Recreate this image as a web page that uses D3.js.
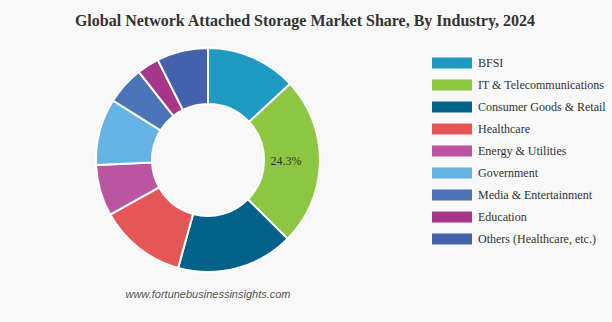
<!DOCTYPE html>
<html><head><meta charset="utf-8">
<script src="https://cdn.jsdelivr.net/npm/d3@7"></script>
<style>html,body{margin:0;padding:0;background:#f8f8f8;}svg{display:block;}</style>
</head><body>
<svg id="chart" width="612" height="322"></svg>
<script>
const categories = ["BFSI","IT & Telecommunications","Consumer Goods & Retail","Healthcare","Energy & Utilities","Government","Media & Entertainment","Education","Others (Healthcare, etc.)"];
const shares = [13.1, 24.3, 16.9, 12.6, 7.4, 9.6, 5.5, 3.2, 7.4];
const colors = ["#1f9ac4","#8dc641","#04628a","#e55757","#bb559f","#63b3e5","#4b73b8","#a6368a","#4361ad"];
const labelled = ["IT & Telecommunications"];
const title = "Global Network Attached Storage Market Share, By Industry, 2024";
const source = "www.fortunebusinessinsights.com";

const svg = d3.select("#chart");
svg.append("rect").attr("width",612).attr("height",322).attr("fill","#f8f8f8");
svg.append("text").attr("x",305).attr("y",26).attr("text-anchor","middle")
  .attr("font-family","Liberation Serif, Times New Roman, serif").attr("font-weight","bold")
  .attr("font-size",16).attr("fill","#333").text(title);

const cx=208, cy=160, R=112, r=56;
const data = categories.map((c,i)=>({cat:c, v:shares[i]}));
const pie = d3.pie().value(d=>d.v).sort(null);
const arc = d3.arc().innerRadius(r).outerRadius(R);
const color = d3.scaleOrdinal().domain(categories).range(colors);
const g = svg.append("g").attr("transform",`translate(${cx},${cy})`);
const arcs = pie(data);
g.selectAll("path").data(arcs).join("path").attr("d",arc)
  .attr("fill",d=>color(d.data.cat)).attr("stroke","#ffffff").attr("stroke-width",2);
const lab = d3.arc().innerRadius(78).outerRadius(78);
g.selectAll("text.lbl").data(arcs.filter(d=>labelled.includes(d.data.cat))).join("text")
  .attr("class","lbl").attr("transform",d=>`translate(${lab.centroid(d)})`)
  .attr("text-anchor","middle").attr("dy","0.3em")
  .attr("font-family","Liberation Serif, Times New Roman, serif").attr("font-size",12)
  .attr("fill","#333").text(d=>d.data.v.toFixed(1)+"%");

const ly = d3.scalePoint().domain(categories).range([63,239]);
const lg = svg.append("g");
const items = lg.selectAll("g").data(categories).join("g").attr("transform",d=>`translate(432,${ly(d)})`);
items.append("rect").attr("x",0).attr("y",-5.5).attr("width",40).attr("height",11).attr("fill",d=>color(d));
items.append("text").attr("x",46).attr("y",0).attr("dy","0.35em")
  .attr("font-family","Liberation Serif, Times New Roman, serif").attr("font-size",12)
  .attr("fill","#333").text(d=>d);

svg.append("text").attr("x",208).attr("y",298).attr("text-anchor","middle")
  .attr("font-family","Liberation Sans, Arial, sans-serif").attr("font-style","italic")
  .attr("font-size",11).attr("fill","#555").text(source);
</script>
</body></html>
